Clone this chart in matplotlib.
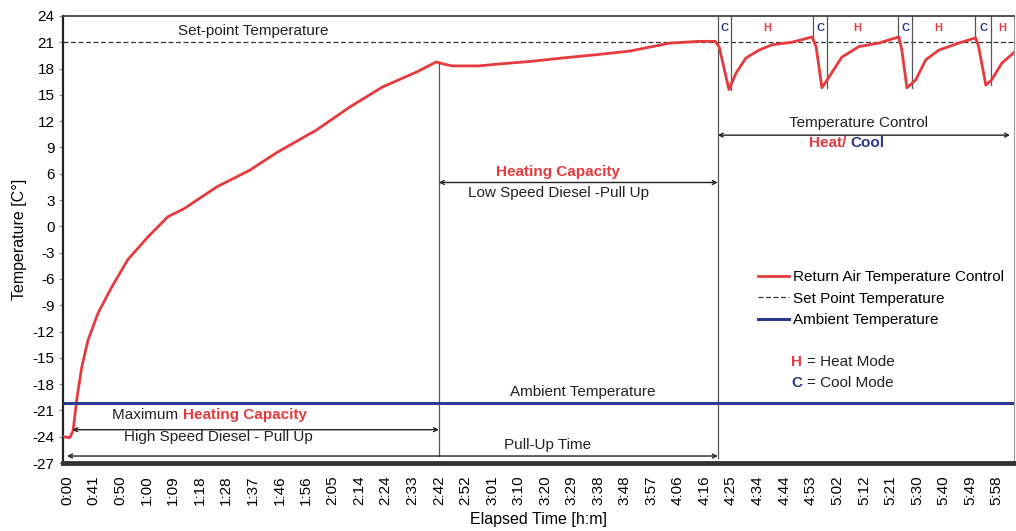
import matplotlib
matplotlib.use('Agg')
import matplotlib.pyplot as plt

plt.rcParams['font.family'] = ['Liberation Sans', 'DejaVu Sans']

# x axis categories (elapsed time, h:m) - plotted at positions 0..35
time_labels = ['0:00', '0:41', '0:50', '1:00', '1:09', '1:18', '1:28', '1:37', '1:46',
               '1:56', '2:05', '2:14', '2:24', '2:33', '2:42', '2:52', '3:01', '3:10',
               '3:20', '3:29', '3:38', '3:48', '3:57', '4:06', '4:16', '4:25', '4:34',
               '4:44', '4:53', '5:02', '5:12', '5:21', '5:30', '5:40', '5:49', '5:58']
y_ticks = list(range(-27, 25, 3))

# return air temperature (position on the category axis, temp in C)
ret_pos = [-0.15, 0.11, 0.23, 0.3, 0.38, 0.56, 0.79, 1.17, 1.69, 2.29,
           3.05, 3.8, 4.4, 5.64, 6.88, 7.89, 9.4, 10.64, 11.88, 13.16,
           13.9, 14.2, 14.5, 15.5, 16.2, 17.4, 18.65, 20.0, 21.2, 22.7,
           23.8, 24.4,
           24.55, 24.92, 25.19, 25.56, 26.05, 26.54, 27.29, 27.93, 28.05,
           28.2, 28.42, 28.68, 29.17, 29.81, 30.56, 31.2, 31.32,
           31.43, 31.62, 31.95, 32.33, 32.82, 33.57, 34.21,
           34.32, 34.59, 34.81, 35.19, 35.64]
ret_temp = [-24.0, -24.1, -23.3, -21.5, -19.5, -16.0, -13.0, -9.9, -6.9, -3.8,
            -1.2, 1.1, 2.0, 4.5, 6.4, 8.4, 11.0, 13.6, 15.9, 17.6,
            18.75, 18.5, 18.3, 18.3, 18.5, 18.8, 19.2, 19.6, 20.0, 20.9,
            21.1, 21.1,
            20.5, 15.6, 17.5, 19.2, 20.1, 20.7, 21.0, 21.5, 21.6,
            20.5, 15.8, 17.0, 19.3, 20.5, 20.9, 21.5, 21.6,
            20.1, 15.8, 16.7, 19.0, 20.1, 20.9, 21.5,
            20.5, 16.1, 16.7, 18.6, 19.8]

set_point = 21.0
ambient = -20.2

# phase boundaries (category positions)
high_speed_end = 14.0    # 2:42
pull_up_end = 24.5       # pull-up done, temperature control starts
# mode switches during control
cool_start = [24.5, 28.1, 31.3, 34.2]
heat_start = [25.0, 28.6, 31.8, 34.8]
cool_min = [15.6, 15.8, 15.8, 16.1]

RED = '#e63a3e'
BLUE = '#2b3990'

fig = plt.figure(figsize=(10.16, 5.31), dpi=100)
ax = fig.add_axes([0.062, 0.128, 0.936, 0.842])

xmin, xmax = -0.15, 35.65
ax.set_xlim(xmin, xmax)
ax.set_ylim(-27, 24)

# reference lines
ax.plot([xmin, xmax], [set_point, set_point], color='#333333', lw=0.9,
        ls=(0, (4, 2)), label='Set Point Temperature', zorder=2)
ax.plot([xmin, xmax], [ambient, ambient], color=BLUE, lw=2.2,
        label='Ambient Temperature', zorder=4)
ax.plot(ret_pos, ret_temp, color=RED, lw=2, label='Return Air Temperature Control', zorder=3)

# phase separators
ax.plot([high_speed_end, high_speed_end], [18.7, -26.2], color='#555555', lw=0.9)
ax.plot([pull_up_end, pull_up_end], [24, -26.4], color='#555555', lw=0.9)
for c, h, m in zip(cool_start, heat_start, cool_min):
    if c != pull_up_end:
        ax.plot([c, c], [24, 21.3], color='#555555', lw=0.9)
    ax.plot([h, h], [24, m], color='#555555', lw=0.9)
    ax.text((c + h) / 2, 22.6, 'C', color=BLUE, fontsize=8, fontweight='bold',
            ha='center', va='center')
for c, h in zip(cool_start[1:] + [xmax + 0.4], heat_start):
    ax.text((h + c) / 2 - 0.2, 22.6, 'H', color=RED, fontsize=8, fontweight='bold',
            ha='center', va='center')


def span(x0, x1, y):
    ax.annotate('', xy=(x0, y), xytext=(x1, y),
                arrowprops=dict(arrowstyle='<->', color='#222222', lw=1.0,
                                mutation_scale=7, shrinkA=0, shrinkB=0))


span(0.2, high_speed_end, -23.2)
span(0.0, pull_up_end, -26.2)
span(high_speed_end, pull_up_end, 5.0)
span(pull_up_end, 35.5, 10.4)

fs = 11
ax.text(7.0, 22.3, 'Set-point Temperature', fontsize=fs, ha='center', va='center', color='#222222')
ax.text(4.36, -21.5, 'Maximum ', fontsize=fs, ha='right', va='center', color='#222222')
ax.text(4.36, -21.5, 'Heating Capacity', fontsize=fs, ha='left', va='center',
        color=RED, fontweight='bold')
ax.text(5.7, -24.0, 'High Speed Diesel - Pull Up', fontsize=fs, ha='center', va='center', color='#222222')
ax.text(18.5, 6.2, 'Heating Capacity', fontsize=fs, ha='center', va='center',
        color=RED, fontweight='bold')
ax.text(18.5, 3.8, 'Low Speed Diesel -Pull Up', fontsize=fs, ha='center', va='center', color='#222222')
ax.text(19.4, -18.9, 'Ambient Temperature', fontsize=fs, ha='center', va='center', color='#222222')
ax.text(18.1, -24.9, 'Pull-Up Time', fontsize=fs, ha='center', va='center', color='#222222')
ax.text(29.8, 11.8, 'Temperature Control', fontsize=fs, ha='center', va='center', color='#222222')
ax.text(29.5, 9.5, 'Heat/ ', fontsize=fs, ha='right', va='center', color=RED, fontweight='bold')
ax.text(29.5, 9.5, 'Cool', fontsize=fs, ha='left', va='center', color=BLUE, fontweight='bold')

# legend
h, l = ax.get_legend_handles_labels()
order = [2, 0, 1]
ax.legend([h[i] for i in order], [l[i] for i in order], loc='upper left',
          bbox_to_anchor=(0.731, 0.432), frameon=False, fontsize=fs,
          handlelength=2.0, handletextpad=0.3, labelspacing=0.5,
          borderpad=0, borderaxespad=0)
ax.text(27.27, -15.5, 'H', fontsize=fs, color=RED, fontweight='bold', ha='left', va='center')
ax.text(27.85, -15.5, '= Heat Mode', fontsize=fs, color='#222222', ha='left', va='center')
ax.text(27.27, -17.9, 'C', fontsize=fs, color=BLUE, fontweight='bold', ha='left', va='center')
ax.text(27.85, -17.9, '= Cool Mode', fontsize=fs, color='#222222', ha='left', va='center')

# axes styling
ax.set_xticks(range(len(time_labels)))
ax.set_xticklabels(time_labels, rotation=90, fontsize=fs)
ax.set_yticks(y_ticks)
ax.set_yticklabels([str(v) for v in y_ticks], fontsize=fs)
ax.tick_params(axis='x', length=0, pad=9)
ax.tick_params(axis='y', length=3, width=0.8, color='#888888', pad=3)
ax.spines['bottom'].set_linewidth(3.5)
ax.spines['bottom'].set_color('#333333')
ax.spines['left'].set_linewidth(1.6)
ax.spines['left'].set_color('#222222')
ax.spines['top'].set_linewidth(1.3)
ax.spines['top'].set_color('#444444')
ax.spines['right'].set_linewidth(0.8)
ax.spines['right'].set_color('#999999')

ax.set_xlabel('Elapsed Time [h:m]', fontsize=11.5, labelpad=5)
ax.set_ylabel('Temperature [C°]', fontsize=11.5, labelpad=4)

fig.savefig('out.png', dpi=100)
